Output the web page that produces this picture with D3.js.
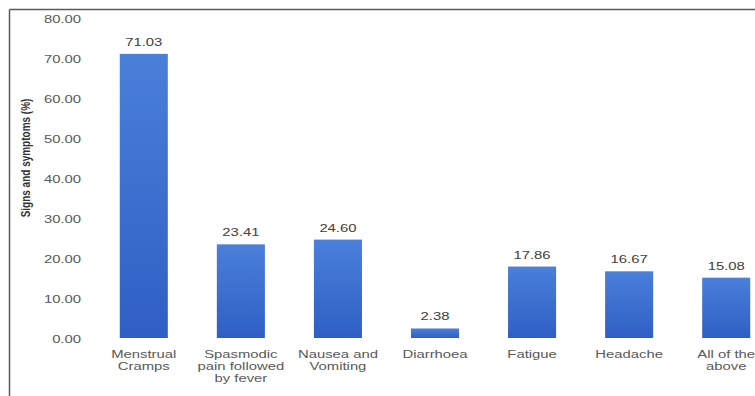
<!DOCTYPE html>
<html>
<head>
<meta charset="utf-8">
<script src="https://cdn.jsdelivr.net/npm/d3@7/dist/d3.min.js"></script>
<style>
  html, body { margin: 0; padding: 0; background: #fff; }
  svg { display: block; }
  text { font-family: "Liberation Sans", Arial, sans-serif; }
</style>
</head>
<body>
<svg id="chart" width="755" height="396"></svg>
<script>
// Signs and symptoms reported (%)
const categories = [
  ["Menstrual", "Cramps"],
  ["Spasmodic", "pain followed", "by fever"],
  ["Nausea and", "Vomiting"],
  ["Diarrhoea"],
  ["Fatigue"],
  ["Headache"],
  ["All of the", "above"]
];
const values = [71.03, 23.41, 24.60, 2.38, 17.86, 16.67, 15.08];
const yTicks = [0, 10, 20, 30, 40, 50, 60, 70, 80];
const yTitle = "Signs and symptoms (%)";

const svg = d3.select("#chart");
const W = 755, H = 396;
const SX = 1.35; // horizontal widening of the label glyphs

// outer frame (top and left edges)
svg.append("line").attr("x1", 9.5).attr("y1", 9.5).attr("x2", W).attr("y2", 9.5)
  .attr("stroke", "#5a5a5a").attr("stroke-width", 1.5);
svg.append("line").attr("x1", 9.5).attr("y1", 9.5).attr("x2", 9.5).attr("y2", H)
  .attr("stroke", "#5a5a5a").attr("stroke-width", 1.5);

const keys = categories.map((c, i) => i);
const x = d3.scaleBand().domain(keys).range([95.5, 774.5])
  .paddingInner(0.505).paddingOuter(0.25);
const y = d3.scaleLinear().domain([0, 80]).range([338, 18]);

// bar gradient
const defs = svg.append("defs");
const grad = defs.append("linearGradient").attr("id", "barGrad")
  .attr("x1", 0).attr("y1", 0).attr("x2", 0).attr("y2", 1);
grad.append("stop").attr("offset", "0%").attr("stop-color", "#4a7fda");
grad.append("stop").attr("offset", "100%").attr("stop-color", "#2f5fc4");

// y axis labels
const yAxis = d3.axisLeft(y).tickValues(yTicks).tickFormat(d3.format(".2f"))
  .tickSize(0).tickPadding(0);
const gy = svg.append("g").attr("transform", "translate(81,0)").call(yAxis);
gy.select(".domain").remove();
gy.selectAll("text")
  .attr("fill", "#5a5a5a").attr("font-size", 11)
  .attr("font-family", "'Liberation Sans', Arial, sans-serif")
  .attr("transform", `translate(0,1) scale(${SX},1)`);

// y title
svg.append("text")
  .attr("transform", `translate(30,158) scale(${SX},1) rotate(-90)`)
  .attr("text-anchor", "middle")
  .attr("font-size", 10).attr("font-weight", "bold").attr("fill", "#333")
  .text(yTitle);

// bars
svg.selectAll("rect.bar").data(values).enter().append("rect")
  .attr("class", "bar")
  .attr("x", (d, i) => x(i))
  .attr("y", d => y(d))
  .attr("width", x.bandwidth())
  .attr("height", d => y(0) - y(d))
  .attr("fill", "url(#barGrad)");

// value labels
svg.selectAll("text.val").data(values).enter().append("text")
  .attr("class", "val")
  .attr("transform", (d, i) =>
    `translate(${x(i) + x.bandwidth() / 2},${y(d) - 8}) scale(${SX},1)`)
  .attr("text-anchor", "middle")
  .attr("font-size", 11).attr("fill", "#404040")
  .text(d => d.toFixed(2));

// category labels
const xAxis = d3.axisBottom(x).tickSize(0).tickFormat("");
const gx = svg.append("g").attr("transform", "translate(0,338)").call(xAxis);
gx.select(".domain").remove();
categories.forEach((lines, i) => {
  const t = svg.append("text")
    .attr("transform", `translate(${x(i) + x.bandwidth() / 2},358) scale(${SX},1)`)
    .attr("text-anchor", "middle")
    .attr("font-size", 11).attr("fill", "#595959");
  lines.forEach((ln, j) => {
    t.append("tspan").attr("x", 0)
      .attr("dy", j === 0 ? 0 : 12).text(ln);
  });
});
</script>
</body>
</html>
